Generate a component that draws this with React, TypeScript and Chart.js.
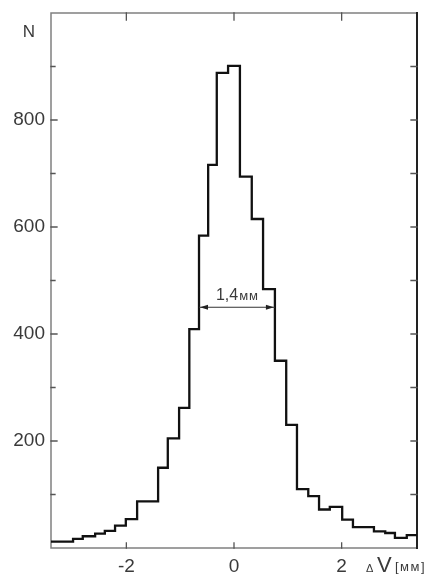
import React, { useEffect, useRef } from 'react';
import { Chart, registerables } from 'chart.js';

Chart.register(...registerables);

// Histogram bin edges (ΔV, mm) and counts N
const binEdges = [
  -3.4, -3.2, -2.99, -2.81, -2.58, -2.4, -2.21, -2.01, -1.8, -1.62, -1.41, -1.23,
  -1.02, -0.83, -0.65, -0.48, -0.32, -0.11, 0.11, 0.33, 0.54, 0.76, 0.97, 1.17,
  1.38, 1.58, 1.78, 2.01, 2.21, 2.42, 2.6, 2.81, 2.99, 3.21, 3.4,
];
const counts = [
  12, 12, 17, 22, 27, 32, 42, 54, 87, 87, 150, 205,
  262, 409, 584, 716, 888, 901, 694, 615, 484, 350, 230, 110,
  97, 72, 77, 53, 39, 39, 31, 28, 19, 24,
];

const xMin = -3.4;
const xMax = 3.4;
const yMin = 0;
const yMax = 1000;
const xTickValues = [-2, 0, 2];
const yLabelValues = [200, 400, 600, 800];
const yMinorTicks = [100, 200, 300, 400, 500, 600, 700, 800, 900];

const fwhmLeft = -0.65;
const fwhmRight = 0.76;
const fwhmLevel = 450;
const fwhmNumber = '1,4';
const fwhmUnit = 'мм';
const yAxisTitle = 'N';
const xAxisTitleMain = 'V';
const xAxisTitleDelta = 'Δ';
const xAxisTitleUnit = '[мм]';

const FONT = "'Liberation Sans', Arial, sans-serif";
const TEXT = '#3a3a3a';

const framePlugin = {
  id: 'frame',
  beforeDatasetsDraw(chart: any) {
    const { ctx, chartArea: a, scales } = chart;
    const xs = scales.x;
    const ys = scales.y;
    ctx.save();
    // frame
    ctx.lineCap = 'square';
    ctx.strokeStyle = '#808080';
    ctx.lineWidth = 1.5;
    ctx.beginPath();
    ctx.moveTo(a.right, a.top);
    ctx.lineTo(a.left, a.top);
    ctx.lineTo(a.left, a.bottom);
    ctx.lineTo(a.right, a.bottom);
    ctx.stroke();
    ctx.strokeStyle = '#222';
    ctx.lineWidth = 2;
    ctx.beginPath();
    ctx.moveTo(a.right, a.top);
    ctx.lineTo(a.right, a.bottom);
    ctx.stroke();

    // inward ticks
    ctx.lineWidth = 1.3;
    ctx.strokeStyle = '#555';
    ctx.beginPath();
    yMinorTicks.forEach((v) => {
      const y = ys.getPixelForValue(v);
      const major = yLabelValues.includes(v);
      ctx.moveTo(a.left, y);
      ctx.lineTo(a.left + (major ? 6 : 4), y);
      ctx.moveTo(a.right, y);
      ctx.lineTo(a.right - 6, y);
    });
    xTickValues.forEach((v) => {
      const x = xs.getPixelForValue(v);
      ctx.moveTo(x, a.top);
      ctx.lineTo(x, a.top + 7);
      ctx.moveTo(x, a.bottom);
      ctx.lineTo(x, a.bottom - 5);
    });
    ctx.stroke();
    ctx.restore();
  },
  afterDatasetsDraw(chart: any) {
    const { ctx, scales } = chart;
    const xs = scales.x;
    const ys = scales.y;
    ctx.save();
    // FWHM arrow
    const x1 = xs.getPixelForValue(fwhmLeft);
    const x2 = xs.getPixelForValue(fwhmRight);
    const y = ys.getPixelForValue(fwhmLevel);
    ctx.strokeStyle = '#333';
    ctx.fillStyle = '#222';
    ctx.lineWidth = 1;
    ctx.beginPath();
    ctx.moveTo(x1, y);
    ctx.lineTo(x2, y);
    ctx.stroke();
    ctx.beginPath();
    ctx.moveTo(x1 + 1, y);
    ctx.lineTo(x1 + 9, y - 2.5);
    ctx.lineTo(x1 + 9, y + 2.5);
    ctx.closePath();
    ctx.moveTo(x2 - 1, y);
    ctx.lineTo(x2 - 9, y - 2.5);
    ctx.lineTo(x2 - 9, y + 2.5);
    ctx.closePath();
    ctx.fill();

    ctx.fillStyle = TEXT;
    ctx.textBaseline = 'alphabetic';
    ctx.textAlign = 'left';
    ctx.font = `16px ${FONT}`;
    const w1 = ctx.measureText(fwhmNumber).width;
    ctx.font = `13px ${FONT}`;
    (ctx as any).letterSpacing = '1px';
    const w2 = ctx.measureText(fwhmUnit).width;
    let fx = (x1 + x2) / 2 - (w1 + w2) / 2;
    const fy = y - 7;
    (ctx as any).letterSpacing = '0px';
    ctx.font = `16px ${FONT}`;
    ctx.fillText(fwhmNumber, fx, fy);
    fx += w1 + 1;
    ctx.font = `13px ${FONT}`;
    (ctx as any).letterSpacing = '1px';
    ctx.fillText(fwhmUnit, fx, fy);
    (ctx as any).letterSpacing = '0px';

    // axis titles
    ctx.font = `17px ${FONT}`;
    ctx.textAlign = 'center';
    ctx.fillText(yAxisTitle, 29, 37);

    ctx.textAlign = 'left';
    const by = 572;
    ctx.font = `11px ${FONT}`;
    ctx.fillText(xAxisTitleDelta, 366, by);
    ctx.font = `22px ${FONT}`;
    ctx.fillText(xAxisTitleMain, 377, by);
    ctx.font = `13px ${FONT}`;
    (ctx as any).letterSpacing = '1.5px';
    ctx.fillText(xAxisTitleUnit, 395, by - 1);
    (ctx as any).letterSpacing = '0px';
    ctx.restore();
  },
};

export default function App() {
  const ref = useRef<HTMLCanvasElement>(null);
  useEffect(() => {
    const points = binEdges.map((x, i) => ({ x, y: counts[Math.min(i, counts.length - 1)] }));
    const chart = new Chart(ref.current as HTMLCanvasElement, {
      type: 'line',
      data: {
        datasets: [
          {
            data: points,
            stepped: 'before',
            borderColor: '#111',
            borderWidth: 2.3,
            pointRadius: 0,
            fill: false,
          } as any,
        ],
      },
      options: {
        animation: false,
        responsive: false,
        maintainAspectRatio: false,
        layout: { padding: { top: 13, right: 17, left: 0, bottom: 0 } },
        plugins: { legend: { display: false }, tooltip: { enabled: false } },
        scales: {
          x: {
            type: 'linear',
            min: xMin,
            max: xMax,
            afterFit: (s: any) => {
              s.height = 28;
              s.paddingLeft = 0;
              s.paddingRight = 0;
            },
            afterBuildTicks: (s: any) => {
              s.ticks = xTickValues.map((v) => ({ value: v }));
            },
            grid: { display: false, drawTicks: false },
            border: { display: false },
            ticks: {
              padding: 7,
              color: TEXT,
              font: { family: FONT, size: 19 },
              maxRotation: 0,
              autoSkip: false,
              callback: (v: any) => String(v),
            },
          },
          y: {
            type: 'linear',
            min: yMin,
            max: yMax,
            afterFit: (s: any) => {
              s.width = 51;
              s.paddingTop = 0;
              s.paddingBottom = 0;
            },
            afterBuildTicks: (s: any) => {
              s.ticks = yLabelValues.map((v) => ({ value: v }));
            },
            grid: { display: false, drawTicks: false },
            border: { display: false },
            ticks: {
              padding: 6,
              color: TEXT,
              font: { family: FONT, size: 19 },
              autoSkip: false,
              callback: (v: any) => String(v),
            },
          },
        },
      } as any,
      plugins: [framePlugin],
    });
    return () => chart.destroy();
  }, []);
  return (
    <div style={{ position: 'absolute', left: 0, top: 0, width: 434, height: 576, background: '#fff' }}>
      <canvas ref={ref} width={434} height={576} style={{ display: 'block' }} />
    </div>
  );
}
